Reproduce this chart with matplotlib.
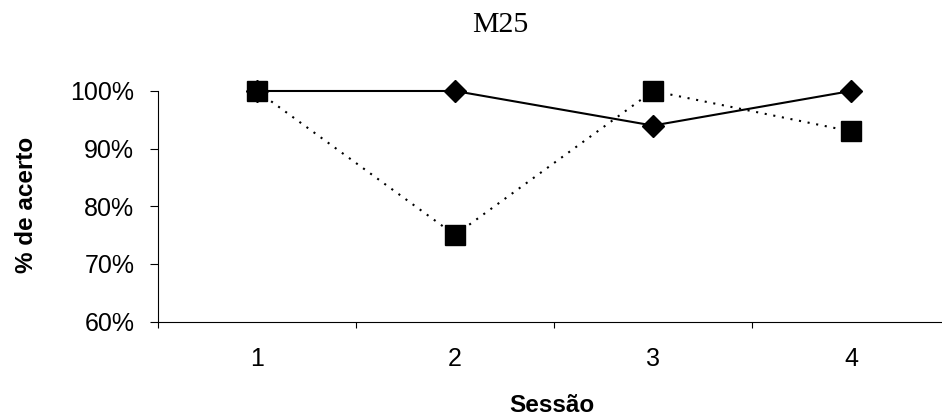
import numpy as np
import matplotlib.pyplot as plt
from matplotlib.ticker import FixedLocator, PercentFormatter

sessions = [1, 2, 3, 4]
serie_a = [100, 100, 94, 100]   # diamonds, solid line
serie_b = [100, 75, 100, 93]    # squares, dotted line

plt.rcParams['font.family'] = ['Liberation Sans', 'DejaVu Sans']

fig = plt.figure(figsize=(9.42, 4.17), dpi=100)
ax = fig.add_axes([0.1677, 0.229, 0.8408, 0.5528])

ax.plot(sessions, serie_b, color='black', linestyle=(0, (1, 3.2)), linewidth=1.5,
        marker='s', markersize=14, clip_on=False, zorder=3)
ax.plot(sessions, serie_a, color='black', linestyle='-', linewidth=1.5,
        marker='D', markersize=10.7, clip_on=False, zorder=4)

ax.set_xlim(0.5, 4.5)
ax.set_ylim(60, 100)
ax.set_yticks([60, 70, 80, 90, 100])
ax.yaxis.set_major_formatter(PercentFormatter(decimals=0))

ax.set_xticks(sessions)
ax.set_xticklabels([str(s) for s in sessions])
ax.xaxis.set_minor_locator(FixedLocator([0.5, 1.5, 2.5, 3.5, 4.5]))
ax.tick_params(axis='x', which='major', length=0, pad=18, labelsize=18)
ax.tick_params(axis='x', which='minor', length=4.5, width=0.8, direction='out')
ax.tick_params(axis='y', length=6, width=0.8, direction='out', pad=11, labelsize=18)

for s in ['top', 'right']:
    ax.spines[s].set_visible(False)
ax.spines['left'].set_linewidth(0.8)
ax.spines['bottom'].set_linewidth(0.8)

fig.text(552 / 942, 1 - 412 / 417, 'Sessão', ha='center', va='baseline',
         fontsize=17.5, fontweight='bold')
fig.text(33 / 942, 1 - 205 / 417, '% de acerto', ha='center', va='baseline',
         rotation=90, rotation_mode='anchor', fontsize=17.5, fontweight='bold')
fig.text(500.5 / 942, 1 - 32 / 417, 'M25', ha='center', va='baseline', fontsize=21.5,
         family=['Liberation Serif', 'DejaVu Serif'])

fig.savefig('out.png', dpi=100)
